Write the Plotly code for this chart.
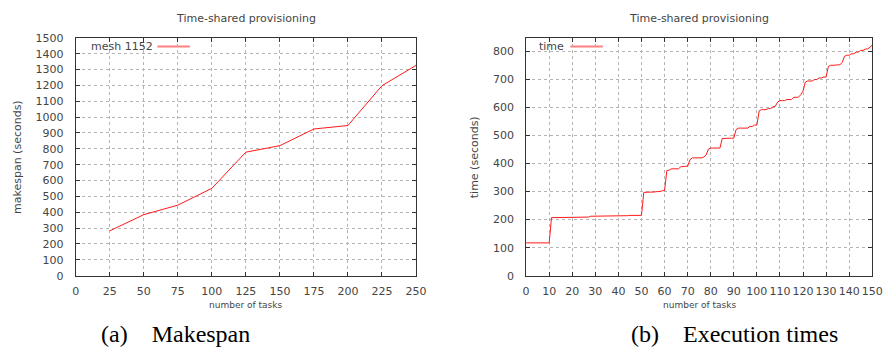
import plotly.graph_objects as go

# ---- data ----
makespan_tasks = [25, 50, 75, 100, 125, 150, 175, 200, 225, 250]
makespan_secs = [283, 385, 445, 551, 779, 820, 925, 947, 1198, 1326]

exec_task_idx = list(range(0, 151))
exec_times = [
    117, 117, 117, 117, 117, 117, 117, 117, 117, 117, 117,          # 0-10
    207, 207, 207, 207, 207, 207, 207, 207,                         # 11-18
    209, 209, 209, 209, 209, 209, 209, 209, 209,                    # 19-27
    212, 212, 212, 212, 212, 212, 212, 212, 212, 212, 212,          # 28-38
    214, 214, 214, 214, 214, 214,                                   # 39-44
    215, 215, 215, 215, 215, 215,                                   # 45-50
    297, 298, 298, 298, 298, 300, 300, 300, 303, 303,               # 51-60
    375, 376, 381, 381, 381, 381, 388, 390, 390, 390,               # 61-70
    413, 420, 420, 420, 420, 420, 423, 430, 451, 455,               # 71-80
    455, 455, 455, 455, 489, 490, 490, 490, 490, 490,               # 81-90
    521, 526, 526, 526, 526, 526, 532, 532, 537, 537,               # 91-100
    587, 592, 592, 592, 596, 596, 602, 604, 619, 624,               # 101-110
    624, 624, 628, 628, 628, 636, 636, 636, 645, 658,               # 111-120
    690, 694, 694, 694, 699, 699, 705, 705, 708, 708,               # 121-130
    746, 750, 750, 750, 750, 752, 760, 782, 786, 786,               # 131-140
    791, 791, 797, 797, 803, 803, 808, 808, 814, 822,               # 141-150
]

left_yticks = list(range(0, 1501, 100))
left_xticks = list(range(0, 251, 25))
right_yticks = list(range(0, 801, 100))
right_xticks = list(range(0, 151, 10))

W, H = 896, 354
LINE_RED = "#ff1a1a"
TXT = "#454545"
FONT = "DejaVu Sans"


def px(x):
    return x / W


def py(y):
    return 1 - y / H


fig = go.Figure()
fig.add_trace(go.Scatter(x=makespan_tasks, y=makespan_secs, mode="lines",
                         line=dict(color=LINE_RED, width=1), xaxis="x", yaxis="y",
                         showlegend=False))
fig.add_trace(go.Scatter(x=exec_task_idx, y=exec_times, mode="lines",
                         line=dict(color=LINE_RED, width=1), xaxis="x2", yaxis="y2",
                         showlegend=False))

axis_common = dict(
    showline=True, linecolor="#333333", linewidth=1, mirror="allticks",
    ticks="inside", ticklen=4, tickcolor="#333333",
    showgrid=True, gridcolor="#b4b4b4", griddash="dot", gridwidth=1,
    zeroline=False, tickfont=dict(family=FONT, size=11, color=TXT),
)

fig.update_layout(
    width=W, height=H,
    margin=dict(l=0, r=0, t=0, b=0),
    paper_bgcolor="white", plot_bgcolor="white",
    xaxis=dict(domain=[px(73), px(419)], range=[0, 250], tickvals=left_xticks,
               anchor="y", ticklabelstandoff=5, **axis_common),
    yaxis=dict(domain=[py(280), py(33)], range=[0, 1500], tickvals=left_yticks,
               anchor="x", ticklabelstandoff=9, **axis_common),
    xaxis2=dict(domain=[px(531), px(883)], range=[0, 150], tickvals=right_xticks,
                anchor="y2", ticklabelstandoff=5, **axis_common),
    yaxis2=dict(domain=[py(280), py(33)], range=[0, 848], tickvals=right_yticks,
                anchor="x2", ticklabelstandoff=9, **axis_common),
)

annotations = [
    # panel titles
    dict(text="Time-shared provisioning", x=px(246), y=py(13), size=11),
    dict(text="Time-shared provisioning", x=px(707), y=py(13), size=11),
    # x-axis titles
    dict(text="number of tasks", x=px(246), y=py(310), size=9),
    dict(text="number of tasks", x=px(707), y=py(310), size=9),
    # y-axis titles
    dict(text="makespan (seconds)", x=px(13), y=py(157), size=11, angle=-90),
    dict(text="time (seconds)", x=px(478), y=py(157), size=11, angle=-90),
    # key labels
    dict(text="mesh 1152", x=px(86), y=py(42), size=11, xanchor="left"),
    dict(text="time", x=px(542), y=py(42), size=11, xanchor="left"),
]
for a in annotations:
    fig.add_annotation(
        text=a["text"], x=a["x"], y=a["y"], xref="paper", yref="paper",
        xanchor=a.get("xanchor", "center"), yanchor="middle", showarrow=False,
        textangle=a.get("angle", 0),
        font=dict(family=FONT, size=a["size"], color=TXT),
    )

# key line samples
for x0, x1 in [(156, 189), (576, 609)]:
    fig.add_shape(type="line", xref="paper", yref="paper",
                  x0=px(x0), x1=px(x1), y0=py(42), y1=py(42),
                  line=dict(color="#ff8080", width=2))

# sub-figure captions
for text, cx in [("(a)&nbsp;&nbsp;&nbsp;&nbsp;Makespan", 174),
                 ("(b)&nbsp;&nbsp;&nbsp;&nbsp;Execution times", 743)]:
    fig.add_annotation(
        text=text, x=px(cx), y=py(340), xref="paper", yref="paper",
        xanchor="center", yanchor="middle", showarrow=False,
        font=dict(family="Liberation Serif", size=24, color="black"),
    )

# page body without default margins so the figure fills the window exactly
fig.write_html("out.html",
               post_script="document.body.style.margin='0';"
                           "document.body.style.overflow='hidden';")
